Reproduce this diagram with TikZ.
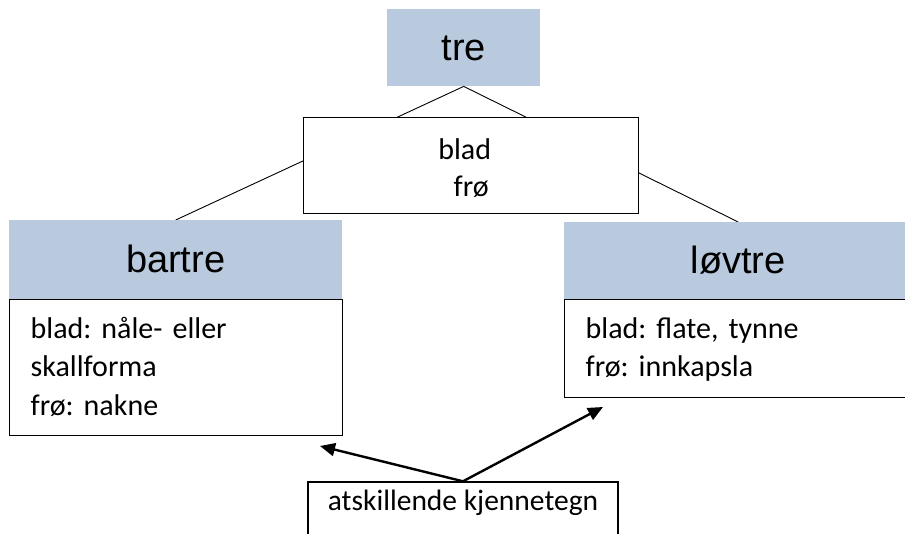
\documentclass[tikz,border=0pt]{standalone}
\usepackage{fontspec}
\setmainfont{Carlito}
\newfontfamily\headfont{Liberation Sans}
\usetikzlibrary{arrows.meta,backgrounds}
\definecolor{headblue}{RGB}{185,202,223}
\frenchspacing
\begin{document}
\begin{tikzpicture}[x=1pt,y=-1pt,
 head/.style={fill=headblue, font=\headfont\fontsize{38}{42}\selectfont, inner sep=0, text height=34.4, text depth=8.1, anchor=north west},
 bodybox/.style={draw, line width=1.4pt, fill=white, font=\fontsize{30}{38.3}\selectfont, align=left, inner ysep=0, inner xsep=21, anchor=north west, text height=39},
 conn/.style={line width=0.9pt},
 arr/.style={line width=2.4pt, -{Triangle[length=15pt,width=13pt]}}
]
\useasboundingbox (0,0) rectangle (905,534);
\node[head, minimum width=153, minimum height=77] (tre) at (387,9) {tre};
\node[draw, line width=1.4pt, fill=white, text width=335, inner sep=0, text height=42, text depth=54, anchor=north west, align=center,
  font=\fontsize{30}{37}\selectfont] (mid) at (303,117) {\kern-13pt blad\\frø};
\node[head, minimum width=333, minimum height=79] (barh) at (9,220) {bartre};
\node[bodybox, text width=291, text depth=97] (barb) at (9,299) {blad: nåle- eller\\skallforma\\frø: nakne};
\node[head, minimum width=348, minimum height=77] (lovh) at (564,222) {løvtre};
\node[bodybox, text width=306, text depth=59] (lovb) at (564,299) {blad: flate, tynne\\frø: innkapsla};
\node[draw, line width=1.4pt, anchor=base, text height=28, text depth=40, inner ysep=0, minimum width=310,
  font=\fontsize{29.5}{34}\selectfont] (atsk) at (463,510) {atskillende kjennetegn};
\begin{scope}[on background layer]
\draw[conn] (tre.south) -- (barh.north);
\draw[conn] (tre.south) -- (lovh.north);
\end{scope}
\coordinate (aL) at (320,446);
\coordinate (aR) at (603,407);
\draw[arr] (atsk.north) -- (aL);
\draw[arr] (atsk.north) -- (aR);
\end{tikzpicture}
\end{document}
